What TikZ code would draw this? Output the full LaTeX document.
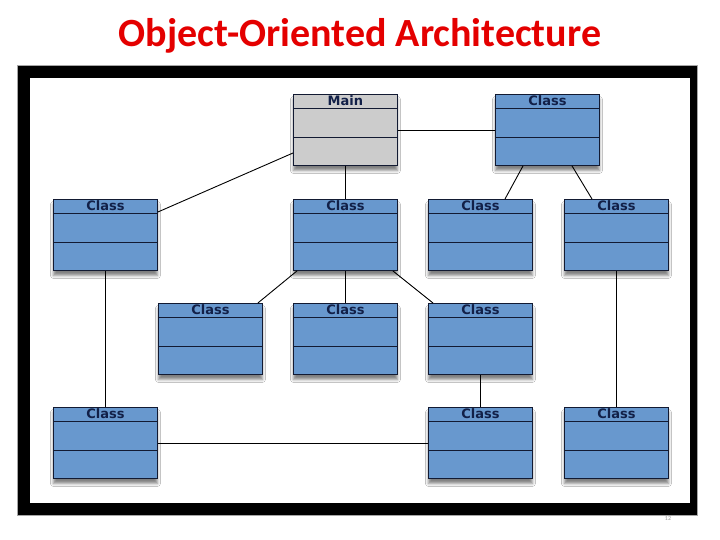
\documentclass[tikz,border=0pt]{standalone}
\usepackage{fontspec}
\setmainfont{Carlito}
\newfontfamily\boxfont{DejaVu Sans}
\usetikzlibrary{calc,shadows.blur}
\definecolor{boxblue}{RGB}{104,152,206}
\definecolor{boxgray}{RGB}{204,204,204}
\definecolor{boxline}{RGB}{18,26,50}
\definecolor{hdrtext}{RGB}{18,32,72}
\definecolor{titlered}{RGB}{228,0,0}
\tikzset{
  classbox/.style={draw=boxline, line width=0.9pt, fill=boxblue,
    minimum width=104pt, minimum height=71pt, inner sep=0pt, anchor=north west,
    blur shadow={shadow xshift=0pt, shadow yshift=-5pt, shadow blur radius=3pt, shadow opacity=50},
    path picture={
      \draw[boxline, line width=0.8pt]
        ([yshift=-14pt]path picture bounding box.north west) -- ([yshift=-14pt]path picture bounding box.north east)
        ([yshift=-43pt]path picture bounding box.north west) -- ([yshift=-43pt]path picture bounding box.north east);
    }},
  hdr/.style={font=\boxfont\bfseries\fontsize{13}{13}\selectfont, text=hdrtext, inner sep=0pt, anchor=center},
  conn/.style={draw=black, line width=0.9pt},
  connthick/.style={draw=black, line width=1.6pt},
}
\newcommand\umlbox[5]{%
  \node[classbox, fill=#5] (#1) at (#2,#3) {};
  \node[hdr] (#1t) at ([yshift=-7pt]#1.north) {#4};
}
\begin{document}
\begin{tikzpicture}[x=1pt,y=-1pt]
\useasboundingbox (0,0) rectangle (720,540);
% title
\node[font=\bfseries\fontsize{40}{42}\selectfont, text=titlered, anchor=base, inner sep=0pt] (title) at (360,47) {Object-Oriented Architecture};
% frame
\fill[black] (17,65) rectangle (697,515);
\draw[gray!70, line width=0.8pt] (17,65) rectangle (697,515);
\fill[white] (30,78) rectangle (690,503);
\node[font=\fontsize{6}{6}\selectfont, text=gray!80, inner sep=0pt, anchor=north] (pgnum) at (668,516) {12};
% boxes
\umlbox{main}{293}{94}{Main}{boxgray}
\umlbox{ctr}{495}{94}{Class}{boxblue}
\umlbox{ca}{53}{199}{Class}{boxblue}
\umlbox{cb}{293}{199}{Class}{boxblue}
\umlbox{cc}{428}{199}{Class}{boxblue}
\umlbox{cd}{564}{199}{Class}{boxblue}
\umlbox{ce}{158}{303}{Class}{boxblue}
\umlbox{cf}{293}{303}{Class}{boxblue}
\umlbox{cg}{428}{303}{Class}{boxblue}
\umlbox{ch}{53}{407}{Class}{boxblue}
\umlbox{ci}{428}{407}{Class}{boxblue}
\umlbox{cj}{564}{407}{Class}{boxblue}
% connectors
\draw[conn] ([yshift=-36pt]main.north east) -- ([yshift=-36pt]ctr.north west);
\draw[conn] ([yshift=-59pt]main.north west) -- ([yshift=-13pt]ca.north east);
\draw[conn] (main.south) -- (cb.north);
\draw[conn] ([xshift=28pt]ctr.south west) -- ([xshift=77pt]cc.north west);
\draw[conn] ([xshift=77pt]ctr.south west) -- ([xshift=28pt]cd.north west);
\draw[conn] ([xshift=4pt]cb.south west) -- ([xshift=-5pt]ce.north east);
\draw[conn] (cb.south) -- (cf.north);
\draw[conn] ([xshift=-5pt]cb.south east) -- ([xshift=5pt]cg.north west);
\draw[conn, line width=0.6pt] (ca.south) -- (ch.north);
\draw[connthick] (cd.south) -- (cj.north);
\draw[conn] (cg.south) -- (ci.north);
\draw[conn] ([yshift=-36pt]ch.north east) -- ([yshift=-36pt]ci.north west);
\end{tikzpicture}
\end{document}
